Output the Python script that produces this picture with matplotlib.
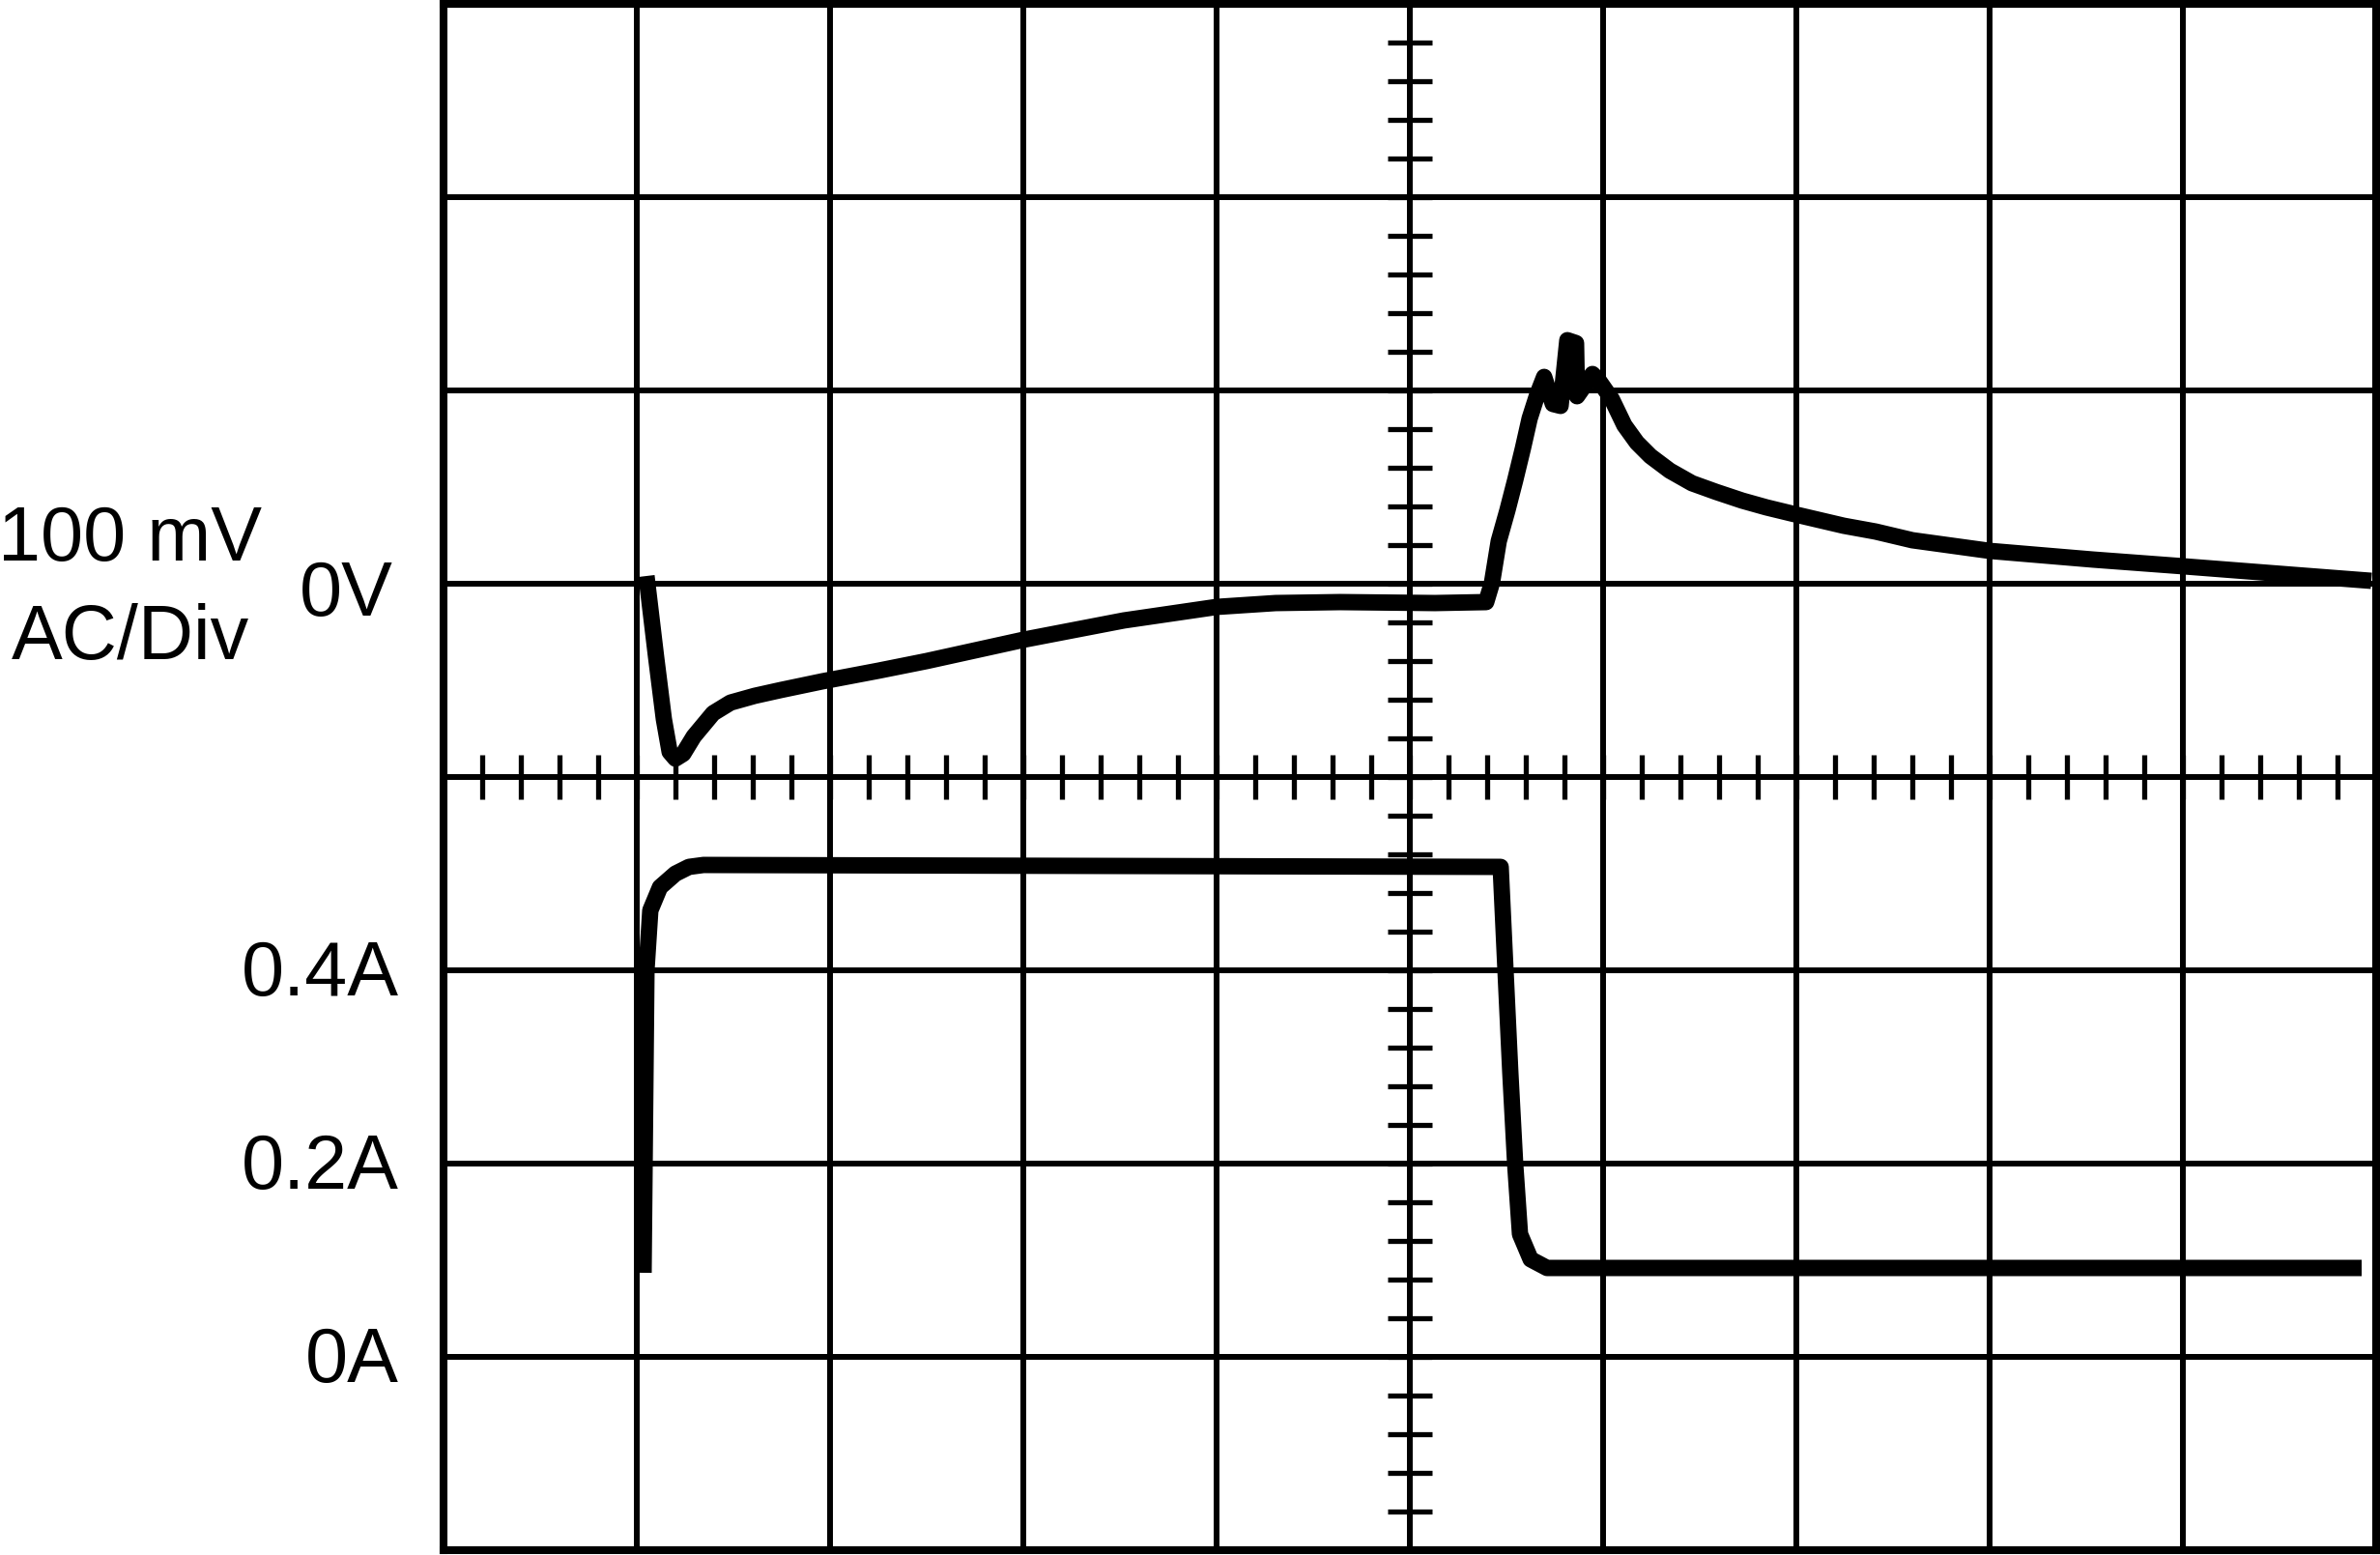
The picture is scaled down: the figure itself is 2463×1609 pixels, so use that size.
import numpy as np
import matplotlib
matplotlib.use("Agg")
import matplotlib.pyplot as plt

# screen is 10 x 8 divisions; time axis read in divisions
# voltage channel: 100 mV/div, 0 V on division line 5
# current channel: 0.2 A/div, 0 A on division line 1
volt_t = [1.05, 1.10, 1.14, 1.17, 1.20, 1.24, 1.295, 1.395, 1.485, 1.61,
          1.745, 1.96, 2.25, 2.5, 3.0, 3.52, 4.0, 4.305, 4.64, 5.13,
          5.395, 5.425, 5.46, 5.505, 5.545, 5.585, 5.62, 5.66, 5.695, 5.74,
          5.78, 5.815, 5.86, 5.865, 5.935, 5.945, 5.975, 6.045, 6.11, 6.175,
          6.245, 6.345, 6.46, 6.585, 6.72, 6.845, 7.01, 7.245, 7.41, 7.6,
          8.0, 8.535, 9.005, 9.585, 9.975]
volt_mv = [4, -38, -70, -87, -90.5, -88, -79, -67, -61.5, -58,
           -55, -50.5, -45, -40, -29, -19, -12, -10, -9.5, -10,
           -9.5, 0.5, 22, 38, 53.5, 70, 85.5, 98, 107, 93,
           92, 126, 124.5, 97, 107, 108.5, 105.5, 95.5, 82, 73,
           66, 58.5, 52, 47.5, 43, 39.5, 35.5, 30, 27, 22.5,
           17, 12.5, 9, 4.5, 1.5]

curr_t = [1.035, 1.05, 1.07, 1.12, 1.20, 1.27, 1.345, 5.47, 5.495, 5.52,
          5.545, 5.57, 5.625, 5.71, 9.925]
curr_a = [0.087, 0.40, 0.462, 0.486, 0.500, 0.507, 0.509, 0.507, 0.40, 0.294,
          0.20, 0.127, 0.101, 0.092, 0.092]

volt_labels = [(0.0, "0V")]
curr_labels = [(0.4, "0.4A"), (0.2, "0.2A"), (0.0, "0A")]

V_PER_DIV, V_ZERO = 100.0, 5.0
A_PER_DIV, A_ZERO = 0.2, 1.0

W, H = 2463, 1609
fig = plt.figure(figsize=(W / 100, H / 100), dpi=100)
ax = fig.add_axes([459 / W, 5 / H, 2000 / W, 1600 / H])
ax.set_xlim(0, 10)
ax.set_ylim(0, 8)

# graticule
for x in range(1, 10):
    ax.axvline(x, color="black", lw=4.3, zorder=1)
for y in range(1, 8):
    ax.axhline(y, color="black", lw=4.3, zorder=1)
minor = np.arange(0.2, 10, 0.2)
ax.vlines(minor, 4 - 0.115, 4 + 0.115, color="black", lw=3.8, zorder=1)
minor_y = np.arange(0.2, 8, 0.2)
ax.hlines(minor_y, 5 - 0.115, 5 + 0.115, color="black", lw=3.8, zorder=1)

ax.set_xticks([])
ax.set_yticks([])
for s in ax.spines.values():
    s.set_linewidth(5.8)
    s.set_zorder(3)

# traces
v_div = V_ZERO + np.array(volt_mv) / V_PER_DIV
i_div = A_ZERO + np.array(curr_a) / A_PER_DIV
ax.plot(volt_t, v_div, color="black", lw=12.2, solid_joinstyle="round",
        solid_capstyle="butt", zorder=2, clip_on=False)
ax.plot(curr_t, i_div, color="black", lw=12.2, solid_joinstyle="round",
        solid_capstyle="butt", zorder=2, clip_on=False)

font = ["Liberation Sans", "DejaVu Sans"]
fs = 57
for val, lab in volt_labels:
    ax.annotate(lab, xy=(0, V_ZERO + val / V_PER_DIV), xytext=(-37.4, -23.8),
                textcoords="offset points", ha="right", va="baseline",
                fontsize=fs, family=font, annotation_clip=False)
for val, lab in curr_labels:
    ax.annotate(lab, xy=(0, A_ZERO + val / A_PER_DIV), xytext=(-33, -18.7),
                textcoords="offset points", ha="right", va="baseline",
                fontsize=fs, family=font, annotation_clip=False)

fig.text(135 / W, 1 - 580 / H, "100 mV", ha="center", va="baseline",
         fontsize=fs, family=font)
fig.text(135 / W, 1 - 682 / H, "AC/Div", ha="center", va="baseline",
         fontsize=fs, family=font)

fig.savefig("out.png", dpi=100, facecolor="white")
